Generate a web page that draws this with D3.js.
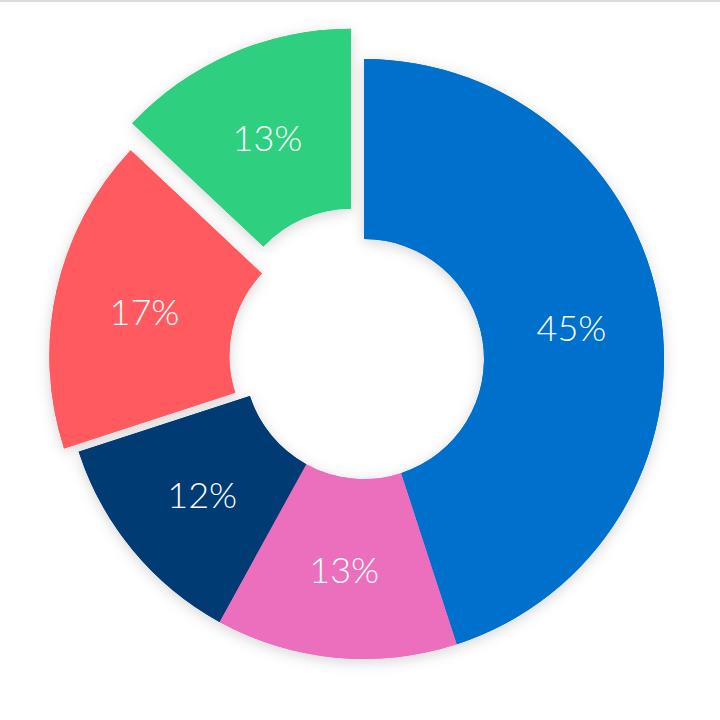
<!DOCTYPE html>
<html>
<head>
<meta charset="utf-8">
<script src="https://d3js.org/d3.v7.min.js"></script>
<style>
  html, body { margin: 0; padding: 0; background: #fff; }
  svg { display: block; }
</style>
</head>
<body>
<svg id="chart" width="720" height="720"></svg>
<script>

// Data: slices clockwise from 12 o'clock
var slices = ["Blue", "Pink", "Navy", "Red", "Green"];
var shares = [45, 13, 12, 17, 13];
var labels = ["45%", "13%", "12%", "17%", "13%"];

// Styling
var colorarray = ["#0070cd", "#eb6fbd", "#003b73", "#ff5a5f", "#2ecf7e"];
var pullout = [0, 0, 0, 15, 33];

var w = 720, h = 720;
var cx = 364, cy = 359;
var outerR = 300, innerR = 120;

var svg = d3.select("#chart");

// thin grey line along the top of the picture
svg.append("rect")
  .attr("x", 0).attr("y", 0)
  .attr("width", w).attr("height", 2)
  .style("fill", "#dcdcdc");

// soft shadow behind slices
var defs = svg.append("defs");
var filter = defs.append("filter")
  .attr("id", "shadow")
  .attr("x", "-20%").attr("y", "-20%")
  .attr("width", "140%").attr("height", "140%");
filter.append("feDropShadow")
  .attr("dx", 0).attr("dy", 3)
  .attr("stdDeviation", 7)
  .attr("flood-color", "#000")
  .attr("flood-opacity", 0.17);

var color = d3.scaleOrdinal().domain(slices).range(colorarray);

var pie = d3.pie()
  .sort(null)
  .value(function(d, i) { return shares[i]; });

var arc = d3.arc()
  .innerRadius(innerR)
  .outerRadius(outerR);

var arcs = pie(slices);

var shift = function(d, i) {
  var mid = (d.startAngle + d.endAngle) / 2;
  var dx = Math.sin(mid) * pullout[i];
  var dy = -Math.cos(mid) * pullout[i];
  return "translate(" + dx + "," + dy + ")";
};

var g = svg.append("g")
  .attr("transform", "translate(" + cx + "," + cy + ")");

// shadow layer first, so shadows only show in the gaps and around the ring
g.append("g").selectAll("path")
  .data(arcs)
  .enter().append("path")
    .attr("transform", shift)
    .attr("d", arc)
    .style("fill", function(d) { return color(d.data); })
    .attr("filter", "url(#shadow)");

var slice = g.selectAll("g.slice")
  .data(arcs)
  .enter().append("g")
    .attr("class", "slice")
    .attr("transform", shift);

slice.append("path")
  .attr("d", arc)
  .style("fill", function(d) { return color(d.data); });

slice.append("text")
  .attr("transform", function(d) { return "translate(" + arc.centroid(d) + ")"; })
  .attr("dy", "0.42em")
  .attr("text-anchor", "middle")
  .style("font-family", "Lato, 'Open Sans', sans-serif")
  .style("font-weight", 300)
  .style("font-size", "36px")
  .style("fill", "#fff")
  .text(function(d, i) { return labels[i]; });

</script>
</body>
</html>
